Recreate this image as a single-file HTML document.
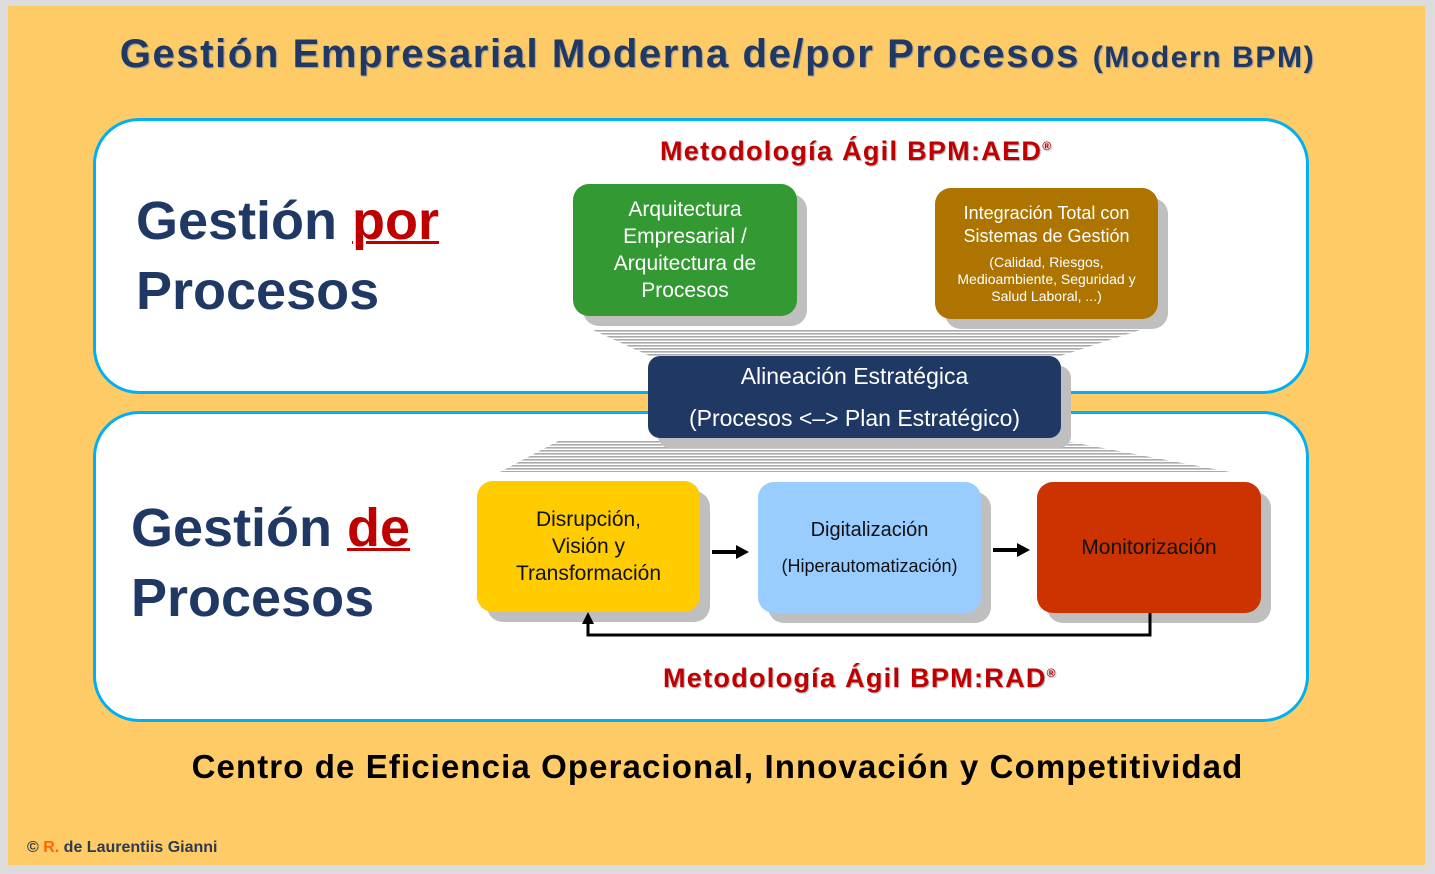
<!DOCTYPE html>
<html><head><meta charset="utf-8"><style>
body{margin:0;width:1435px;height:874px;background:#dcdcdc;position:relative;overflow:hidden;font-family:"Liberation Sans","DejaVu Sans",sans-serif}
.a{position:absolute}
.bg{left:8px;top:6px;width:1417px;height:859px;background:#FFCB66}
.panel{border:3px solid #00B0F0;background:#fff;border-radius:46px;box-sizing:border-box}
.box{border-radius:16px;display:flex;flex-direction:column;align-items:center;justify-content:center;text-align:center;box-sizing:border-box;box-shadow:10px 10px 0 #bfbfbf}
.big{font-weight:bold;font-size:54px;color:#1F3864;line-height:70px}
.red{color:#C00000;text-decoration:underline;text-decoration-thickness:3px}
.meth{color:#C00000;font-weight:bold;font-size:27px;letter-spacing:1.3px;text-shadow:1px 1px 1px #aaa}
</style></head><body>
<div class="a bg"></div>
<div class="a" style="left:0;top:32px;width:1435px;text-align:center;font-size:40px;font-weight:bold;letter-spacing:1.6px;color:#1F3864;text-shadow:1px 1px 1px #999">Gestión Empresarial Moderna de/por Procesos <span style="font-size:30px">(Modern BPM)</span></div>
<div class="a panel" style="left:93px;top:118px;width:1216px;height:276px"></div>
<div class="a panel" style="left:93px;top:411px;width:1216px;height:311px"></div>
<svg class="a" style="left:0;top:0" width="1435" height="874">
<defs><pattern id="st" width="4" height="3" patternUnits="userSpaceOnUse"><rect width="4" height="1.6" fill="#aaa"/></pattern></defs>
<polygon points="593,330 1140,330 1060,356 650,356" fill="url(#st)"/>
<polygon points="560,440 1060,440 1230,472 500,472" fill="url(#st)"/>
</svg>
<div class="a meth" style="left:660px;top:136px">Metodología Ágil BPM:AED<sup style="font-size:12px">®</sup></div>
<div class="a meth" style="left:663px;top:663px">Metodología Ágil BPM:RAD<sup style="font-size:12px">®</sup></div>
<div class="a big" style="left:136px;top:186px">Gestión <span class="red">por</span><br>Procesos</div>
<div class="a big" style="left:131px;top:493px">Gestión <span class="red">de</span><br>Procesos</div>
<div class="a box" style="left:573px;top:184px;width:224px;height:132px;background:#339933;color:#fff;font-size:21px;line-height:27px">Arquitectura<br>Empresarial /<br>Arquitectura de<br>Procesos</div>
<div class="a box" style="left:935px;top:188px;width:223px;height:131px;background:#AD7400;color:#fff;font-size:18px;line-height:23px">Integración Total con<br>Sistemas de Gestión<div style="font-size:14px;line-height:17px;margin-top:6px">(Calidad, Riesgos,<br>Medioambiente, Seguridad y<br>Salud Laboral, ...)</div></div>
<div class="a box" style="left:648px;top:356px;width:413px;height:82px;background:#1F3864;color:#fff;font-size:23px;line-height:42px;border-radius:12px">Alineación Estratégica<br>(Procesos &lt;–&gt; Plan Estratégico)</div>
<div class="a box" style="left:477px;top:481px;width:223px;height:131px;background:#FFCC00;color:#111;font-size:21px;line-height:27px">Disrupción,<br>Visión y<br>Transformación</div>
<div class="a box" style="left:758px;top:482px;width:223px;height:131px;background:#99CCFF;color:#111;font-size:20px;line-height:36px">Digitalización<br><span style="font-size:18px">(Hiperautomatización)</span></div>
<div class="a box" style="left:1037px;top:482px;width:224px;height:131px;background:#CC3300;color:#111;font-size:21px">Monitorización</div>
<svg class="a" style="left:0;top:0" width="1435" height="874">
<polyline points="1150,613 1150,635 588,635 588,622" fill="none" stroke="#000" stroke-width="3"/>
<polygon points="582,624 594,624 588,612" fill="#000"/>
<line x1="712" y1="552" x2="738" y2="552" stroke="#000" stroke-width="4"/><polygon points="736,545 749,552 736,559" fill="#000"/>
<line x1="993" y1="550" x2="1019" y2="550" stroke="#000" stroke-width="4"/><polygon points="1017,543 1030,550 1017,557" fill="#000"/>
</svg>
<div class="a" style="left:0;top:748px;width:1435px;text-align:center;font-size:33px;font-weight:bold;letter-spacing:1.1px;color:#000">Centro de Eficiencia Operacional, Innovación y Competitividad</div>
<div class="a" style="left:27px;top:839px;font-size:16px;font-weight:bold;color:#2f3a4f">© <span style="color:#FF6600">R.</span> de Laurentiis Gianni</div>
</body></html>
